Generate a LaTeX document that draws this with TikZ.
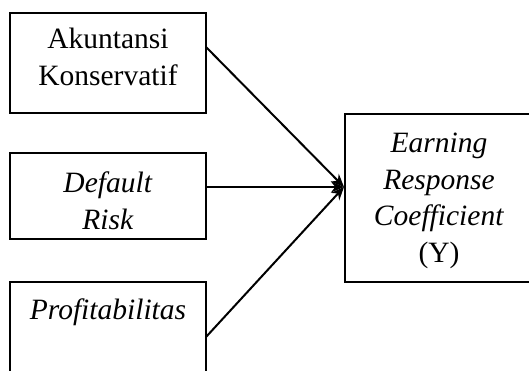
\documentclass[tikz,border=0pt]{standalone}
\usepackage{fontspec}
\setmainfont{Liberation Serif}[Ligatures=NoCommon]
\usetikzlibrary{arrows.meta,calc}
\begin{document}
\begin{tikzpicture}[x=1pt,y=1pt,
  varbox/.style={draw,line width=1.8pt,inner sep=0pt,outer sep=0pt,anchor=north west,
    align=center,font=\fontsize{29.5}{36.5}\selectfont},
  conn/.style={line width=2pt,-{Stealth[length=13pt,width=11pt]}}]
\useasboundingbox (0,0) rectangle (529,371);
\node[varbox,text width=196pt,minimum width=196pt,text height=36pt,text depth=64pt] (x1) at (10,358) {Akuntansi\\Konservatif};
\node[varbox,text width=196pt,minimum width=196pt,text height=40pt,text depth=46pt] (x2) at (10,218) {\textit{Default}\\\textit{Risk}};
\node[varbox,text width=196pt,minimum width=196pt,text height=38pt,text depth=90pt] (x3) at (10,89) {\textit{Profitabilitas}};
\node[varbox,text width=188pt,minimum width=188pt,text height=39pt,text depth=129pt] (y) at (345,257) {\textit{Earning}\\\textit{Response}\\\textit{Coefficient}\\(Y)};
\coordinate (tip) at ($(y.west)+(-1,11)$);
\coordinate (s1) at ($(x1.north east)+(0,-34)$);
\coordinate (s3) at ($(x3.north east)+(0,-55)$);
\draw[conn] (s1) -- (tip);
\draw[conn] (x2.east |- tip) -- (tip);
\draw[conn] (s3) -- (tip);
\end{tikzpicture}
\end{document}
